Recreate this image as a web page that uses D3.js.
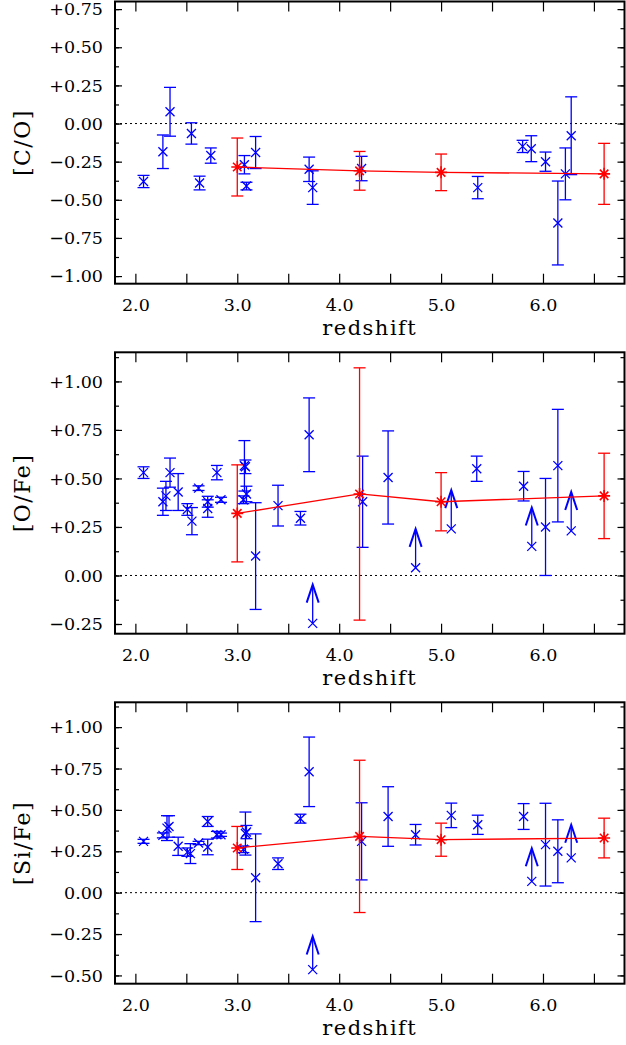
<!DOCTYPE html>
<html>
<head>
<meta charset="utf-8">
<script src="https://cdn.jsdelivr.net/npm/d3@7"></script>
<style>
  body { margin: 0; background: #fff; }
  svg { display: block; }
</style>
</head>
<body>
<div id="chart"></div>
<script>
// redshift axis ticks
var xMajor = [2.0, 3.0, 4.0, 5.0, 6.0];
var xMinor = [2.5, 3.5, 4.5, 5.5, 6.5];

// [C/O] : [redshift, value, error]
var coBlue = [
  [2.08, -0.38, 0.04], [2.27, -0.185, 0.11], [2.34, 0.077, 0.16], [2.55, -0.065, 0.07],
  [2.63, -0.39, 0.045], [2.74, -0.21, 0.05], [3.07, -0.27, 0.06], [3.09, -0.41, 0.025],
  [3.18, -0.19, 0.105], [3.705, -0.30, 0.08], [3.74, -0.42, 0.11], [4.22, -0.295, 0.08],
  [5.36, -0.42, 0.073], [5.80, -0.15, 0.04], [5.885, -0.165, 0.085], [6.025, -0.25, 0.063],
  [6.146, -0.652, 0.275], [6.22, -0.33, 0.17], [6.277, -0.08, 0.255]
];
var coRed = [[3.0, -0.285, 0.19], [4.2, -0.31, 0.127], [5.0, -0.32, 0.12], [6.6, -0.33, 0.2]];
var coLimits = [];
var coTicks = [-1.0, -0.75, -0.5, -0.25, 0, 0.25, 0.5, 0.75];

// [O/Fe]
var ofeBlue = [
  [2.08, 0.53, 0.03], [2.27, 0.38, 0.07], [2.30, 0.41, 0.075], [2.34, 0.53, 0.075],
  [2.42, 0.43, 0.095], [2.51, 0.34, 0.03], [2.555, 0.28, 0.07], [2.62, 0.45, 0.012],
  [2.71, 0.38, 0.028], [2.71, 0.345, 0.045], [2.80, 0.53, 0.037], [2.84, 0.39, 0.013],
  [3.06, 0.39, 0.02], [3.07, 0.565, 0.13], [3.08, 0.56, 0.035], [3.09, 0.42, 0.04],
  [3.18, 0.10, 0.275], [3.40, 0.36, 0.105], [3.62, 0.295, 0.035], [3.705, 0.725, 0.19],
  [4.23, 0.38, 0.235], [4.48, 0.505, 0.24], [5.35, 0.55, 0.065], [5.81, 0.46, 0.076],
  [6.025, 0.25, 0.25], [6.146, 0.566, 0.29]
];
var ofeRed = [[3.0, 0.32, 0.25], [4.2, 0.42, 0.65], [5.0, 0.38, 0.15], [6.6, 0.41, 0.22]];
var ofeLimits = [[3.74, -0.247], [4.75, 0.04], [5.10, 0.24], [5.89, 0.15], [6.277, 0.23]];
var ofeTicks = [-0.25, 0, 0.25, 0.5, 0.75, 1.0];

// [Si/Fe]
var sifeBlue = [
  [2.08, 0.31, 0.012], [2.27, 0.346, 0.015], [2.31, 0.39, 0.075], [2.33, 0.40, 0.065],
  [2.42, 0.28, 0.055], [2.51, 0.245, 0.025], [2.54, 0.236, 0.06], [2.62, 0.30, 0.01],
  [2.71, 0.276, 0.047], [2.71, 0.43, 0.03], [2.80, 0.35, 0.02], [2.84, 0.35, 0.01],
  [3.06, 0.262, 0.02], [3.08, 0.357, 0.13], [3.09, 0.366, 0.04], [3.18, 0.09, 0.265],
  [3.40, 0.175, 0.035], [3.62, 0.447, 0.027], [3.705, 0.73, 0.21], [4.22, 0.31, 0.233],
  [4.48, 0.46, 0.18], [4.75, 0.35, 0.062], [5.10, 0.467, 0.074], [5.36, 0.41, 0.058],
  [5.81, 0.46, 0.078], [6.025, 0.29, 0.25], [6.146, 0.25, 0.19]
];
var sifeRed = [[3.0, 0.27, 0.13], [4.2, 0.34, 0.46], [5.0, 0.32, 0.1], [6.6, 0.33, 0.12]];
var sifeLimits = [[3.74, -0.465], [5.89, 0.068], [6.277, 0.21]];
var sifeTicks = [-0.5, -0.25, 0, 0.25, 0.5, 0.75, 1.0];

var width = 626, height = 1045;
var left = 115, right = 624.5;
var FONT = "'DejaVu Serif', serif";

var panels = [
  {label: "[C/O]", top: 1.5, bottom: 283.7, dom: [-1.05, 0.80], ticks: coTicks, blue: coBlue, red: coRed, lim: coLimits},
  {label: "[O/Fe]", top: 352.3, bottom: 633.7, dom: [-0.30, 1.15], ticks: ofeTicks, blue: ofeBlue, red: ofeRed, lim: ofeLimits},
  {label: "[Si/Fe]", top: 702.3, bottom: 983.7, dom: [-0.55, 1.15], ticks: sifeTicks, blue: sifeBlue, red: sifeRed, lim: sifeLimits}
];

var svg = d3.select("#chart").append("svg")
  .attr("width", width).attr("height", height);

var x = d3.scaleLinear().domain([1.8, 6.8]).range([left, right]);

function fmt(v) {
  if (Math.abs(v) < 1e-9) return "0.00";
  return (v > 0 ? "+" : "\u2212") + Math.abs(v).toFixed(2);
}

function minorsOf(ticks, dom) {
  var out = [];
  for (var v = -2; v <= 2; v += 0.125) {
    var r = Math.round(v * 1000) / 1000;
    if (r > dom[0] && r < dom[1]) out.push(r);
  }
  return out;
}

function styleAxis(g) {
  g.select(".domain").remove();
  g.selectAll("line").attr("stroke", "#000").attr("stroke-width", 1.2);
  g.selectAll("text").attr("font-family", FONT).attr("font-size", 17.5).attr("fill", "#000");
}

panels.forEach(function(p) {
  var y = d3.scaleLinear().domain(p.dom).range([p.bottom, p.top]);
  var g = svg.append("g");

  // y axes (ticks inward)
  g.append("g").attr("transform", "translate(" + left + ",0)")
    .call(d3.axisLeft(y).tickValues(p.ticks).tickFormat(fmt).tickSize(-7).tickPadding(12))
    .call(styleAxis);
  g.append("g").attr("transform", "translate(" + left + ",0)")
    .call(d3.axisLeft(y).tickValues(minorsOf(p.ticks, p.dom)).tickFormat("").tickSize(-4))
    .call(styleAxis);
  g.append("g").attr("transform", "translate(" + right + ",0)")
    .call(d3.axisRight(y).tickValues(p.ticks).tickFormat("").tickSize(-7))
    .call(styleAxis);
  g.append("g").attr("transform", "translate(" + right + ",0)")
    .call(d3.axisRight(y).tickValues(minorsOf(p.ticks, p.dom)).tickFormat("").tickSize(-4))
    .call(styleAxis);

  // x axes
  g.append("g").attr("transform", "translate(0," + p.bottom + ")")
    .call(d3.axisBottom(x).tickValues(xMajor).tickFormat(d3.format(".1f")).tickSize(-10).tickPadding(15))
    .call(styleAxis);
  g.append("g").attr("transform", "translate(0," + p.bottom + ")")
    .call(d3.axisBottom(x).tickValues(xMinor).tickFormat("").tickSize(-10))
    .call(styleAxis);
  g.append("g").attr("transform", "translate(0," + p.top + ")")
    .call(d3.axisTop(x).tickValues(xMajor.concat(xMinor)).tickFormat("").tickSize(-10))
    .call(styleAxis);

  // frame
  g.append("rect")
    .attr("x", left).attr("y", p.top)
    .attr("width", right - left).attr("height", p.bottom - p.top)
    .attr("fill", "none").attr("stroke", "#000").attr("stroke-width", 2);

  // zero line
  g.append("line")
    .attr("x1", left).attr("x2", right)
    .attr("y1", y(0)).attr("y2", y(0))
    .attr("stroke", "#000").attr("stroke-width", 1)
    .attr("stroke-dasharray", "2,3");

  // axis titles
  g.append("text")
    .attr("transform", "translate(22," + ((p.top + p.bottom) / 2) + ") rotate(-90)")
    .attr("text-anchor", "middle").attr("dominant-baseline", "central")
    .attr("font-family", FONT).attr("font-size", 22).attr("letter-spacing", 1.5)
    .text(p.label);
  g.append("text")
    .attr("x", (left + right) / 2).attr("y", p.bottom + 51)
    .attr("text-anchor", "middle")
    .attr("font-family", FONT).attr("font-size", 21).attr("letter-spacing", 1.5)
    .text("redshift");

  // blue measurements with error bars
  var blue = "#0000ff";
  var bg = g.append("g").attr("stroke", blue).attr("fill", "none").attr("stroke-width", 1.3);
  p.blue.forEach(function(d) {
    var cx = x(d[0]), y0 = y(d[1] - d[2]), y1 = y(d[1] + d[2]);
    bg.append("line").attr("x1", cx).attr("x2", cx).attr("y1", y0).attr("y2", y1);
    bg.append("line").attr("x1", cx - 6).attr("x2", cx + 6).attr("y1", y0).attr("y2", y0);
    bg.append("line").attr("x1", cx - 6).attr("x2", cx + 6).attr("y1", y1).attr("y2", y1);
    var cy = y(d[1]), s = 4.5;
    bg.append("path").attr("d", "M" + (cx - s) + "," + (cy - s) + "L" + (cx + s) + "," + (cy + s) +
      "M" + (cx - s) + "," + (cy + s) + "L" + (cx + s) + "," + (cy - s));
  });

  // lower limits (arrows)
  p.lim.forEach(function(d) {
    var cx = x(d[0]), cy = y(d[1]), ty = y(d[1] + 0.2), s = 4.5;
    bg.append("line").attr("x1", cx).attr("x2", cx).attr("y1", cy).attr("y2", ty);
    bg.append("path").attr("stroke-width", 2)
      .attr("d", "M" + (cx - 6) + "," + (ty + 18) + "L" + cx + "," + ty + "L" + (cx + 6) + "," + (ty + 18));
    bg.append("path").attr("d", "M" + (cx - s) + "," + (cy - s) + "L" + (cx + s) + "," + (cy + s) +
      "M" + (cx - s) + "," + (cy + s) + "L" + (cx + s) + "," + (cy - s));
  });

  // red binned means
  var red = "#ff0000";
  var rg = g.append("g").attr("stroke", red).attr("fill", "none").attr("stroke-width", 1.3);
  rg.append("path")
    .attr("d", d3.line().x(function(d) { return x(d[0]); }).y(function(d) { return y(d[1]); })(p.red));
  p.red.forEach(function(d) {
    var cx = x(d[0]), y0 = y(d[1] - d[2]), y1 = y(d[1] + d[2]);
    rg.append("line").attr("x1", cx).attr("x2", cx).attr("y1", y0).attr("y2", y1);
    rg.append("line").attr("x1", cx - 6).attr("x2", cx + 6).attr("y1", y0).attr("y2", y0);
    rg.append("line").attr("x1", cx - 6).attr("x2", cx + 6).attr("y1", y1).attr("y2", y1);
    var cy = y(d[1]), r = 6, path = "";
    [0, 45, 90, 135].forEach(function(a) {
      var t = a * Math.PI / 180, dx = r * Math.cos(t), dy = r * Math.sin(t);
      path += "M" + (cx - dx) + "," + (cy - dy) + "L" + (cx + dx) + "," + (cy + dy);
    });
    rg.append("path").attr("d", path).attr("stroke-width", 1.6);
  });
});
</script>
</body>
</html>
